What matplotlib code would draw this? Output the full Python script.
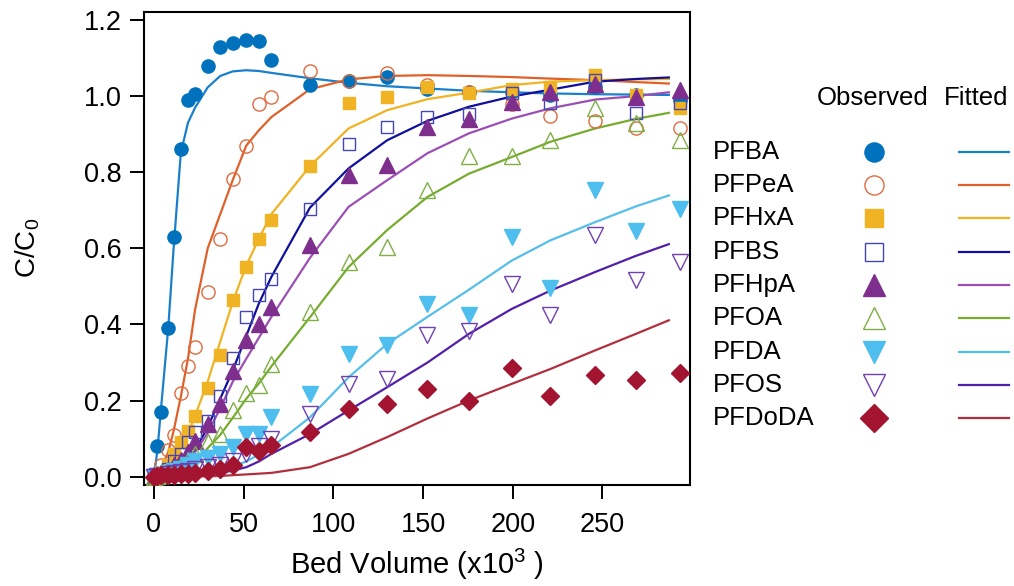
import matplotlib
matplotlib.use("Agg")
import matplotlib.pyplot as plt

plt.rcParams['font.family'] = ['Liberation Sans', 'DejaVu Sans']
plt.rcParams['mathtext.fontset'] = 'custom'
plt.rcParams['mathtext.rm'] = 'Liberation Sans'
plt.rcParams['mathtext.it'] = 'Liberation Sans:italic'

# ---------------- data ----------------
names = ["PFBA", "PFPeA", "PFHxA", "PFBS", "PFHpA", "PFOA", "PFDA", "PFOS", "PFDoDA"]

x_obs = [0, 2, 4, 8, 11, 15, 19, 23, 30, 37, 44, 51.5, 58.5, 65.5, 87, 108.5, 130,
         152.5, 175.5, 199.5, 221, 246, 268.5, 293.5]
x_fit = [0, 2, 4, 8, 11, 15, 19, 23, 30, 37, 44, 51.5, 58.5, 65.5, 87, 108.5, 130,
         152.5, 175.5, 199.5, 221, 246, 268.5, 287]

obs_PFBA = [0.0, 0.08, 0.17, 0.39, 0.63, 0.86, 0.99, 1.005, 1.08, 1.13, 1.14, 1.147, 1.145, 1.095,
            1.03, 1.04, 1.05, 1.02, 1.01, 1.01, 1.003, 1.023, 1.004, 0.99]
obs_PFPeA = [0.0, 0.01, 0.03, 0.07, 0.11, 0.22, 0.29, 0.34, 0.485, 0.624, 0.783, 0.869, 0.979, 0.998,
             1.067, 1.04, 1.061, 1.03, 1.01, 0.978, 0.947, 0.934, 0.917, 0.915]
obs_PFHxA = [0.0, 0.005, 0.01, 0.03, 0.06, 0.09, 0.12, 0.16, 0.232, 0.32, 0.465, 0.551, 0.625, 0.674,
             0.816, 0.983, 0.998, 1.023, 1.007, 1.018, 1.025, 1.055, 1.003, 0.968]
obs_PFBS = [0.0, 0.003, 0.006, 0.02, 0.04, 0.06, 0.09, 0.117, 0.147, 0.213, 0.312, 0.419, 0.478, 0.52,
            0.703, 0.874, 0.919, 0.946, 0.953, 1.009, 0.981, 1.042, 0.956, 0.981]
obs_PFHpA = [0.0, 0.003, 0.005, 0.015, 0.03, 0.045, 0.065, 0.095, 0.139, 0.191, 0.279, 0.358, 0.402, 0.446,
             0.608, 0.792, 0.818, 0.92, 0.941, 0.985, 1.011, 1.033, 0.997, 1.016]
obs_PFOA = [0.0, 0.002, 0.004, 0.01, 0.02, 0.03, 0.045, 0.06, 0.09, 0.112, 0.174, 0.219, 0.242, 0.296,
            0.432, 0.564, 0.603, 0.753, 0.842, 0.842, 0.884, 0.969, 0.93, 0.884]
obs_PFDA = [0.0, 0.002, 0.004, 0.01, 0.015, 0.02, 0.03, 0.04, 0.05, 0.06, 0.077, 0.112, 0.112, 0.156,
            0.218, 0.323, 0.345, 0.454, 0.426, 0.63, 0.496, 0.754, 0.646, 0.704]
obs_PFOS = [0.0, 0.001, 0.003, 0.006, 0.01, 0.012, 0.015, 0.02, 0.025, 0.03, 0.04, 0.06, 0.08, 0.099,
            0.165, 0.244, 0.257, 0.373, 0.384, 0.507, 0.426, 0.634, 0.518, 0.564]
obs_PFDoDA = [0.0, 0.003, 0.005, 0.005, 0.005, 0.007, 0.008, 0.01, 0.015, 0.02, 0.03, 0.077, 0.067, 0.083,
              0.117, 0.178, 0.191, 0.231, 0.2, 0.286, 0.213, 0.268, 0.254, 0.273]

fit_PFBA = [0.0, 0.07, 0.18, 0.39, 0.60, 0.85, 0.93, 0.97, 1.023, 1.053, 1.065, 1.068, 1.066, 1.061,
            1.047, 1.035, 1.026, 1.02, 1.014, 1.01, 1.007, 1.005, 1.004, 1.003]
fit_PFPeA = [0.0, 0.01, 0.02, 0.065, 0.12, 0.21, 0.31, 0.44, 0.60, 0.69, 0.78, 0.87, 0.91, 0.945,
             1.018, 1.044, 1.053, 1.055, 1.053, 1.05, 1.046, 1.042, 1.037, 1.033]
fit_PFHxA = [0.0, 0.002, 0.008, 0.025, 0.042, 0.075, 0.115, 0.16, 0.25, 0.355, 0.46, 0.555, 0.625, 0.69,
             0.816, 0.915, 0.963, 0.992, 1.009, 1.029, 1.038, 1.042, 1.044, 1.045]
fit_PFBS = [0.0, 0.0, 0.002, 0.005, 0.012, 0.025, 0.045, 0.07, 0.13, 0.205, 0.28, 0.37, 0.455, 0.525,
            0.707, 0.81, 0.884, 0.935, 0.972, 0.999, 1.017, 1.038, 1.045, 1.049]
fit_PFHpA = [0.0, 0.0, 0.001, 0.004, 0.01, 0.022, 0.04, 0.065, 0.115, 0.18, 0.25, 0.31, 0.365, 0.42,
             0.575, 0.709, 0.779, 0.85, 0.902, 0.941, 0.968, 0.991, 1.0, 1.01]
fit_PFOA = [0.0, 0.0, 0.0, 0.002, 0.006, 0.015, 0.026, 0.04, 0.075, 0.11, 0.155, 0.205, 0.245, 0.29,
            0.419, 0.551, 0.648, 0.735, 0.796, 0.84, 0.88, 0.915, 0.94, 0.956]
fit_PFDA = [0.0, 0.0, 0.0, 0.001, 0.002, 0.003, 0.005, 0.008, 0.012, 0.018, 0.027, 0.04, 0.058, 0.077,
            0.156, 0.261, 0.349, 0.42, 0.491, 0.568, 0.621, 0.669, 0.71, 0.739]
fit_PFOS = [0.0, 0.0, 0.0, 0.0, 0.001, 0.002, 0.003, 0.004, 0.006, 0.01, 0.016, 0.025, 0.04, 0.06,
            0.112, 0.174, 0.235, 0.30, 0.375, 0.441, 0.489, 0.538, 0.58, 0.611]
fit_PFDoDA = [0.0, 0.0, 0.0, 0.0, 0.0, 0.0, 0.0, 0.001, 0.001, 0.002, 0.004, 0.006, 0.008, 0.01,
              0.025, 0.06, 0.104, 0.153, 0.2, 0.244, 0.283, 0.332, 0.375, 0.411]

observed = [obs_PFBA, obs_PFPeA, obs_PFHxA, obs_PFBS, obs_PFHpA, obs_PFOA, obs_PFDA, obs_PFOS, obs_PFDoDA]
fitted = [fit_PFBA, fit_PFPeA, fit_PFHxA, fit_PFBS, fit_PFHpA, fit_PFOA, fit_PFDA, fit_PFOS, fit_PFDoDA]

x_ticks = [0, 50, 100, 150, 200, 250]
y_ticks = [0.0, 0.2, 0.4, 0.6, 0.8, 1.0, 1.2]

# ---------------- styles ----------------
styles = [
    dict(marker='o', ms=9.5, mfc='#0072BD', mec='#0072BD', lc='#1A80CC'),
    dict(marker='o', ms=9.5, mfc='none', mec='#E06B3F', lc='#E0602A'),
    dict(marker='s', ms=8.5, mfc='#F0B323', mec='#F0B323', lc='#F0B323'),
    dict(marker='s', ms=8.5, mfc='none', mec='#4545B5', lc='#10109C'),
    dict(marker='^', ms=11, mfc='#7E2F8E', mec='#7E2F8E', lc='#9B4FB5'),
    dict(marker='^', ms=11, mfc='none', mec='#7FAF45', lc='#77AC30'),
    dict(marker='v', ms=11, mfc='#4DBEEE', mec='#4DBEEE', lc='#55BFEA'),
    dict(marker='v', ms=11, mfc='none', mec='#7040B0', lc='#5020A8'),
    dict(marker='D', ms=9.5, mfc='#A2142F', mec='#A2142F', lc='#B0303F'),
]

W, H = 1014, 586
fig = plt.figure(figsize=(W / 100, H / 100), dpi=100)
ax = fig.add_axes([144 / W, 1 - 484.5 / H, (690 - 144) / W, (484.5 - 11.7) / H])

for yfit, st in zip(fitted, styles):
    ax.plot(x_fit, yfit, color=st['lc'], lw=1.6, zorder=2)
for yobs, st in zip(observed, styles):
    ax.plot(x_obs, yobs, ls='none', marker=st['marker'], ms=st['ms'], mfc=st['mfc'],
            mec=st['mec'], mew=1.0, zorder=3)

ax.set_xlim(-5.5, 298.8)
ax.set_ylim(-0.0205, 1.2218)
ax.set_xticks(x_ticks)
ax.set_yticks(y_ticks)
ax.set_yticklabels([f"{v:.1f}" for v in y_ticks])
ax.tick_params(direction='out', length=10, width=1.4, labelsize=19.5, colors='black')
ax.tick_params(axis='x', pad=10)
ax.tick_params(axis='y', pad=6)
for s in ax.spines.values():
    s.set_linewidth(1.5)
ax.set_xlabel(r'Bed Volume (x10$^\mathregular{3}$ )', fontsize=21, labelpad=6)
ax.set_ylabel(r'C/C$_\mathregular{0}$', fontsize=20, labelpad=30)

# ---------------- custom legend ----------------
lax = fig.add_axes([0, 0, 1, 1])
lax.set_xlim(0, W)
lax.set_ylim(H, 0)
lax.axis('off')
lax.text(873, 98, 'Observed', ha='center', va='center', fontsize=18.5)
lax.text(976, 98, 'Fitted', ha='center', va='center', fontsize=18.5)
row_y = [151.7, 185, 218.3, 251.7, 285, 318.3, 351.7, 385, 418.3]
for name, st, ry in zip(names, styles, row_y):
    lax.text(713, ry, name, ha='left', va='center', fontsize=18.5)
    lax.plot([874], [ry], ls='none', marker=st['marker'], ms=st['ms'] * 1.45,
             mfc=st['mfc'], mec=st['mec'], mew=1.0)
    lax.plot([959, 1009], [ry, ry], color=st['lc'], lw=1.6)

fig.savefig('out.png', dpi=100)
